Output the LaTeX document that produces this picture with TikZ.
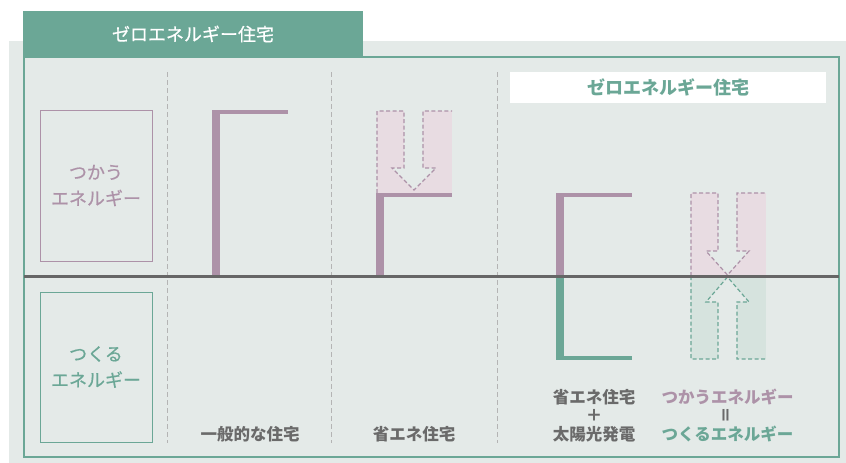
\documentclass[tikz,border=0pt]{standalone}
\usepackage{fontspec}
\setmainfont{Noto Sans CJK JP}
\newfontfamily\jpmed[FakeBold=0.6]{Noto Sans CJK JP}
\usepackage{xcolor}
\usetikzlibrary{positioning}
\definecolor{zehgreen}{HTML}{6BA796}
\definecolor{usepurple}{HTML}{AD92A8}
\definecolor{bggray}{HTML}{E4EAE8}
\definecolor{usefill}{HTML}{E8DCE2}
\definecolor{makefill}{HTML}{D6E3DE}
\definecolor{axisgray}{HTML}{666666}
\definecolor{textgray}{HTML}{6A6A6A}
\definecolor{sepgray}{HTML}{B4B4B4}
\begin{document}
\begin{tikzpicture}[
  x=1pt, y=-1pt,
  sidebox/.style={draw, line width=1pt, align=center, minimum width=112pt,
    font=\jpmed\fontsize{18}{26}\selectfont},
  lbl/.style={align=center, text=textgray, font=\fontsize{16.5}{18.5}\selectfont\bfseries},
  sep/.style={sepgray, line width=1pt, dash pattern=on 5pt off 3pt},
  outline/.style={line width=1.2pt, dash pattern=on 4pt off 2.5pt},
  bar/.style={fill=#1}
]
\useasboundingbox (0,0) rectangle (846,463);
% background and frame
\fill[bggray] (9,41) rectangle (846,463);
\fill[zehgreen] (23,11) rectangle (363,57);
\node[text=white, font=\jpmed\fontsize{18}{20}\selectfont] (tab) at (193,34) {ゼロエネルギー住宅};
\draw[zehgreen, line width=1.5pt] (24,57) rectangle (839,457);
\fill[white] (510,72) rectangle (826,103);
\node[text=zehgreen, font=\fontsize{18}{20}\selectfont\bfseries] (zehlabel) at (668,87.5) {ゼロエネルギー住宅};
% column separators
\foreach \sx in {167,331,497}
  \draw[sep] (\sx,72) -- (\sx,443);
% side boxes
\node[sidebox, usepurple, minimum height=151pt] (use) at (96,185.5) {つかう\\エネルギー};
\node[sidebox, zehgreen, minimum height=150pt] (make) at (96,367) {つくる\\エネルギー};
% general house
\fill[bar=usepurple] (212,110) rectangle (220,276);
\fill[bar=usepurple] (212,110) rectangle (288,114);
% energy saving house
\fill[usefill] (377,111) rectangle (452,193);
\fill[bggray] (404,111) -- (404,168) -- (392,168) -- (414,190) -- (436,168) -- (423,168) -- (423,111) -- cycle;
\draw[outline, usepurple] (377,193) -- (377,111) -- (404,111) -- (404,168) -- (392,168)
  -- (414,190) -- (436,168) -- (423,168) -- (423,111) -- (452,111);
\fill[bar=usepurple] (376,193) rectangle (384,276);
\fill[bar=usepurple] (376,193) rectangle (452,197);
% energy saving + solar
\fill[bar=usepurple] (556,193) rectangle (564,276);
\fill[bar=usepurple] (556,193) rectangle (632,197);
\fill[bar=zehgreen] (556,276) rectangle (564,360);
\fill[bar=zehgreen] (556,356) rectangle (632,360);
% zero energy house
\fill[usefill] (691,193) rectangle (766,276);
\fill[makefill] (691,276) rectangle (766,359);
\fill[bggray] (718,193) -- (718,251) -- (706,251) -- (727.5,275) -- (749,251) -- (737,251) -- (737,193) -- cycle;
\fill[bggray] (718,359) -- (718,302) -- (706,302) -- (727.5,277) -- (749,302) -- (737,302) -- (737,359) -- cycle;
\draw[outline, usepurple] (691,276) -- (691,193) -- (718,193) -- (718,251) -- (706,251)
  -- (727.5,275) -- (749,251) -- (737,251) -- (737,193) -- (766,193);
\draw[outline, zehgreen] (691,276) -- (691,359) -- (718,359) -- (718,302) -- (706,302)
  -- (727.5,277) -- (749,302) -- (737,302) -- (737,359) -- (766,359);
% axis
\draw[axisgray, line width=3pt] (24,276) -- (839,276);
% labels
\node[lbl] (general) at (250,434) {一般的な住宅};
\node[lbl] (saving) at (414,434) {省エネ住宅};
\node[lbl] (solar) at (594,415.5) {省エネ住宅\\＋\\太陽光発電};
\node[lbl, text=usepurple] (usetext) at (727.5,397) {つかうエネルギー};
\node[lbl, rotate=90] (equal) at (727.5,415.5) {＝};
\node[lbl, text=zehgreen] (maketext) at (727.5,434) {つくるエネルギー};
\end{tikzpicture}
\end{document}
